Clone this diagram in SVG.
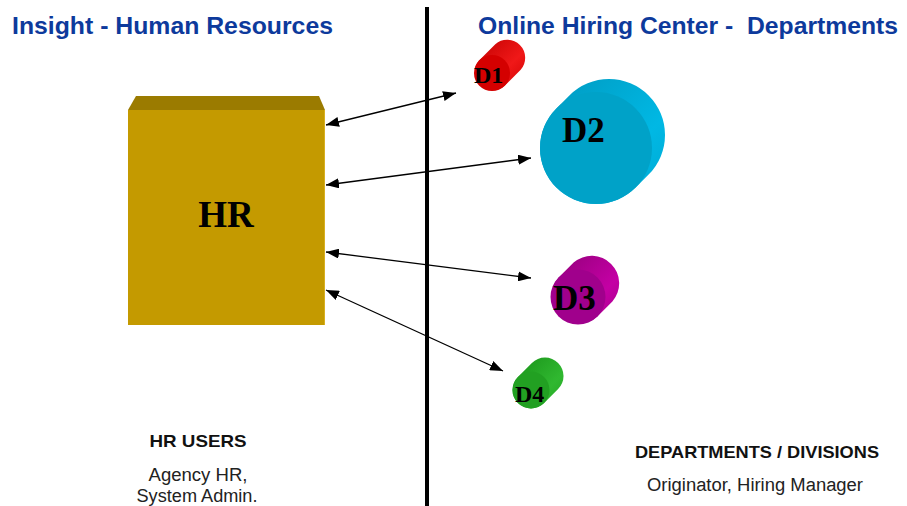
<svg xmlns="http://www.w3.org/2000/svg" width="907" height="506" viewBox="0 0 907 506">
  <style>
    .title { font-family: "Liberation Sans", Arial, sans-serif; font-weight: bold; font-size: 24px; fill: #0d3a9c; }
    .cap { font-family: "Liberation Sans", Arial, sans-serif; font-weight: bold; font-size: 17px; fill: #111; text-anchor: middle; }
    .note { font-family: "Liberation Sans", Arial, sans-serif; font-size: 18px; fill: #222; text-anchor: middle; }
    .lbl { font-family: "Liberation Serif", "Times New Roman", serif; font-weight: bold; fill: #000; }
    .link { stroke: #000; stroke-width: 1.3; fill: none; marker-start: url(#head); marker-end: url(#head); }
  </style>
  <defs>
    <marker id="head" viewBox="0 0 13 10" refX="13" refY="5" markerWidth="13" markerHeight="10" markerUnits="userSpaceOnUse" orient="auto-start-reverse">
      <path d="M0,0 L13,5 L0,10 Z" fill="#000"/>
    </marker>
    <linearGradient id="gRed" x1="0" y1="0" x2="1" y2="1">
      <stop offset="0" stop-color="#c00000"/>
      <stop offset="0.6" stop-color="#f01818"/>
      <stop offset="1" stop-color="#d00000"/>
    </linearGradient>
    <linearGradient id="gBlue" x1="0" y1="0" x2="1" y2="1">
      <stop offset="0" stop-color="#0098be"/>
      <stop offset="0.65" stop-color="#00b8e4"/>
      <stop offset="1" stop-color="#00a8d2"/>
    </linearGradient>
    <linearGradient id="gPurple" x1="0" y1="0" x2="1" y2="1">
      <stop offset="0" stop-color="#900078"/>
      <stop offset="0.65" stop-color="#c400a4"/>
      <stop offset="1" stop-color="#a8008e"/>
    </linearGradient>
    <linearGradient id="gGreen" x1="0" y1="0" x2="1" y2="1">
      <stop offset="0" stop-color="#189018"/>
      <stop offset="0.65" stop-color="#30b830"/>
      <stop offset="1" stop-color="#22a422"/>
    </linearGradient>
  </defs>

  <rect width="907" height="506" fill="#fff"/>

  <!-- section headings -->
  <text class="title" x="12" y="34" textLength="321" lengthAdjust="spacingAndGlyphs">Insight - Human Resources</text>
  <text class="title" x="478" y="34" textLength="420" lengthAdjust="spacingAndGlyphs" xml:space="preserve">Online Hiring Center -  Departments</text>

  <!-- divider -->
  <line x1="427" y1="7" x2="427" y2="506" stroke="#000" stroke-width="4"/>

  <!-- HR block -->
  <g id="hr">
    <polygon points="136,96 319,96 325,110 128,110" fill="#9b7b00"/>
    <rect x="128" y="110" width="197" height="215" fill="#c49a00"/>
    <line x1="324.5" y1="110" x2="324.5" y2="325" stroke="#d8b020" stroke-width="1"/>
    <text class="lbl" x="226" y="227" font-size="37" text-anchor="middle">HR</text>
  </g>

  <!-- departments (cylinders) -->
  <g id="d1">
    <path d="M479.3,60.3 L495.3,44.3 A18 18 0 0 1 520.7,69.7 L504.7,85.7 A18 18 0 0 1 479.3,60.3 Z" fill="url(#gRed)"/>
    <circle cx="492" cy="73" r="18" fill="#d40000"/>
    <text class="lbl" x="474" y="83" font-size="24">D1</text>
  </g>
  <g id="d2">
    <path d="M556.4,108.4 L569.4,95.4 A56 56 0 0 1 648.6,174.6 L635.6,187.6 A56 56 0 0 1 556.4,108.4 Z" fill="url(#gBlue)"/>
    <circle cx="596" cy="148" r="56" fill="#00a2c8"/>
    <text class="lbl" x="562" y="142" font-size="35">D2</text>
  </g>
  <g id="d3">
    <path d="M558.6,277.6 L573.6,262.6 A27.5 27.5 0 0 1 612.4,301.4 L597.4,316.4 A27.5 27.5 0 0 1 558.6,277.6 Z" fill="url(#gPurple)"/>
    <circle cx="578" cy="297" r="27.5" fill="#a0008c"/>
    <text class="lbl" x="553" y="310" font-size="35">D3</text>
  </g>
  <g id="d4">
    <path d="M517.9,376.9 L531.9,362.9 A18.5 18.5 0 0 1 558.1,389.1 L544.1,403.1 A18.5 18.5 0 0 1 517.9,376.9 Z" fill="url(#gGreen)"/>
    <circle cx="531" cy="390" r="18.5" fill="#22a022"/>
    <text class="lbl" x="515" y="402" font-size="24">D4</text>
  </g>

  <!-- connectors -->
  <g id="links">
    <line class="link" x1="326" y1="125" x2="456" y2="93"/>
    <line class="link" x1="326" y1="185" x2="531" y2="158"/>
    <line class="link" x1="326" y1="252" x2="531" y2="278"/>
    <line class="link" x1="326" y1="290" x2="503" y2="371"/>
  </g>

  <!-- captions -->
  <g id="hr-users">
    <text class="cap" x="198" y="447" textLength="97" lengthAdjust="spacingAndGlyphs">HR USERS</text>
    <text class="note" x="198" y="481" textLength="99" lengthAdjust="spacingAndGlyphs">Agency HR,</text>
    <text class="note" x="197" y="502" textLength="121" lengthAdjust="spacingAndGlyphs">System Admin.</text>
  </g>
  <g id="dept-users">
    <text class="cap" x="757" y="458" textLength="244" lengthAdjust="spacingAndGlyphs">DEPARTMENTS / DIVISIONS</text>
    <text class="note" x="755" y="491" textLength="216" lengthAdjust="spacingAndGlyphs">Originator, Hiring Manager</text>
  </g>
</svg>
